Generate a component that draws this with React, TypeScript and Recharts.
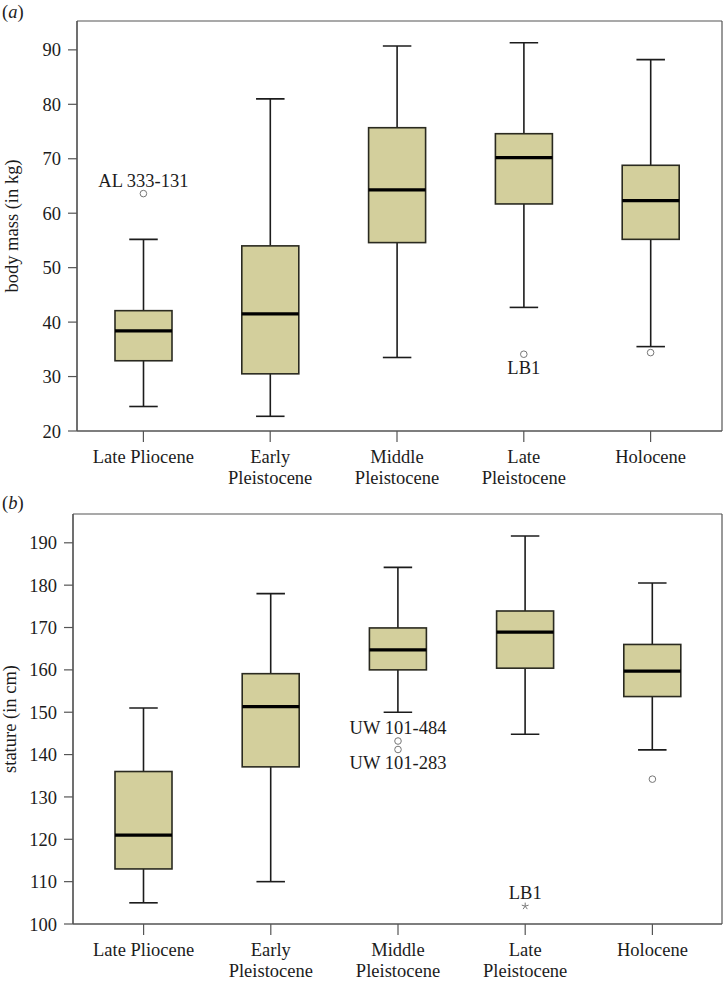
import React from 'react';
import { ComposedChart, Bar, Line, XAxis, YAxis, CartesianGrid } from 'recharts';

const periods = ['Late Pliocene', 'Early Pleistocene', 'Middle Pleistocene', 'Late Pleistocene', 'Holocene'];
const periodTickLines = [['Late Pliocene'], ['Early', 'Pleistocene'], ['Middle', 'Pleistocene'], ['Late', 'Pleistocene'], ['Holocene']];

// (a) body mass, kg
const massLow = [24.5, 22.7, 33.5, 42.7, 35.5];
const massQ1 = [32.9, 30.5, 54.6, 61.7, 55.2];
const massMedian = [38.4, 41.5, 64.3, 70.2, 62.3];
const massQ3 = [42.1, 54.0, 75.7, 74.6, 68.8];
const massHigh = [55.2, 81.0, 90.7, 91.3, 88.2];
const massTicks = [20, 30, 40, 50, 60, 70, 80, 90];
const massOutlierPeriod = [0, 3, 4];
const massOutlierValue = [63.6, 34.1, 34.4];
const massOutlierMark = ['circle', 'circle', 'circle'];
const massOutlierName = ['AL 333-131', 'LB1', ''];
const massOutlierNameSide = ['above', 'below', ''];

// (b) stature, cm
const statLow = [105, 110, 150, 144.8, 141.1];
const statQ1 = [113, 137.1, 160, 160.4, 153.7];
const statMedian = [121, 151.3, 164.7, 168.9, 159.7];
const statQ3 = [136, 159.1, 169.9, 173.9, 166];
const statHigh = [151, 178, 184.2, 191.6, 180.5];
const statTicks = [100, 110, 120, 130, 140, 150, 160, 170, 180, 190];
const statOutlierPeriod = [2, 2, 3, 4];
const statOutlierValue = [143.2, 141.2, 104.2, 134.2];
const statOutlierMark = ['circle', 'circle', 'star', 'circle'];
const statOutlierName = ['UW 101-484', 'UW 101-283', 'LB1', ''];
const statOutlierNameSide = ['above', 'below', 'above', ''];

const serif = '"Liberation Serif", "DejaVu Serif", "Times New Roman", serif';
const fs = 18.5;
const boxFill = '#d3cf9c';
const ink = '#1c1c1c';
const frame = '#555';

function buildRows(low, q1, med, q3, high, oPeriod, oValue, oMark, oName, oSide) {
  return periods.map((p, i) => {
    const outs = [];
    oPeriod.forEach((pi, j) => {
      if (pi === i) outs.push({ value: oValue[j], mark: oMark[j], name: oName[j], side: oSide[j] });
    });
    return { period: p, low: low[i], q1: q1[i], median: med[i], q3: q3[i], high: high[i], o1: outs[0], o2: outs[1] };
  });
}

const massRows = buildRows(massLow, massQ1, massMedian, massQ3, massHigh, massOutlierPeriod, massOutlierValue, massOutlierMark, massOutlierName, massOutlierNameSide);
const statRows = buildRows(statLow, statQ1, statMedian, statQ3, statHigh, statOutlierPeriod, statOutlierValue, statOutlierMark, statOutlierName, statOutlierNameSide);

function BoxShape(props: any) {
  const { x, y, width, height, payload } = props;
  if (!payload || height == null) return <g />;
  const { low, q1, median, q3, high } = payload;
  const top = Math.min(y, y + height);
  const k = Math.abs(height) / (high - low);
  const py = (v: number) => top + (high - v) * k;
  const cx = x + width / 2;
  const cap = width * 0.25;
  return (
    <g>
      <line x1={cx} x2={cx} y1={py(high)} y2={py(q3)} stroke={ink} strokeWidth={1.6} />
      <line x1={cx} x2={cx} y1={py(q1)} y2={py(low)} stroke={ink} strokeWidth={1.6} />
      <line x1={cx - cap} x2={cx + cap} y1={py(high)} y2={py(high)} stroke={ink} strokeWidth={1.6} />
      <line x1={cx - cap} x2={cx + cap} y1={py(low)} y2={py(low)} stroke={ink} strokeWidth={1.6} />
      <rect x={x} y={py(q3)} width={width} height={py(q1) - py(q3)} fill={boxFill} stroke="#2a2a20" strokeWidth={1.6} />
      <line x1={x} x2={x + width} y1={py(median)} y2={py(median)} stroke="#000" strokeWidth={3.2} />
    </g>
  );
}

function outlierDot(key: 'o1' | 'o2') {
  return (props: any) => {
    const { cx, cy, payload, index } = props;
    const o = payload && payload[key];
    if (!o || cy == null || Number.isNaN(cy)) return <g key={`${key}-${index}`} />;
    const arms = [-90, -18, 54, 126, 198].map((a) => (a * Math.PI) / 180);
    return (
      <g key={`${key}-${index}`}>
        {o.mark === 'star' ? (
          arms.map((a, j) => (
            <line key={j} x1={cx} y1={cy} x2={cx + 3.6 * Math.cos(a)} y2={cy + 3.6 * Math.sin(a)} stroke="#777" strokeWidth={1} />
          ))
        ) : (
          <circle cx={cx} cy={cy} r={3.3} fill="#fff" stroke="#777" strokeWidth={1} />
        )}
        {o.name ? (
          <text x={cx} y={cy + (o.side === 'above' ? -13 : 14)} textAnchor="middle" dominantBaseline="central" fontFamily={serif} fontSize={fs} fill={ink}>
            {o.name}
          </text>
        ) : null}
      </g>
    );
  };
}

function PeriodTick(props: any) {
  const { x, y, payload, index } = props;
  const lines = periodTickLines[index] || [payload.value];
  return (
    <text x={x} y={y} textAnchor="middle" fontFamily={serif} fontSize={fs} fill={ink}>
      {lines.map((l, i) => (
        <tspan key={i} x={x} dy={i === 0 ? 19 : 21}>{l}</tspan>
      ))}
    </text>
  );
}

function BoxPanel({ rows, domain, ticks, yLabel, height, top, yWidth, xHeight, pad }) {
  return (
    <ComposedChart width={724} height={height} data={rows} margin={{ top, right: 2, left: 0, bottom: 0 }}>
      <CartesianGrid
        stroke={frame}
        strokeWidth={1.2}
        horizontalCoordinatesGenerator={({ offset }: any) => [offset.top, offset.top + offset.height]}
        verticalCoordinatesGenerator={({ offset }: any) => [offset.left, offset.left + offset.width]}
      />
      <XAxis
        dataKey="period"
        interval={0}
        padding={pad}
        height={xHeight}
        tickSize={11}
        tickMargin={2}
        axisLine={{ stroke: frame, strokeWidth: 1.2 }}
        tickLine={{ stroke: frame, strokeWidth: 1.2 }}
        tick={<PeriodTick />}
      />
      <YAxis
        type="number"
        domain={domain}
        ticks={ticks}
        allowDataOverflow
        width={yWidth}
        tickSize={9}
        tickMargin={7}
        axisLine={{ stroke: frame, strokeWidth: 1.2 }}
        tickLine={{ stroke: frame, strokeWidth: 1.2 }}
        tick={{ fontFamily: serif, fontSize: fs, fill: ink }}
        label={{ value: yLabel, angle: -90, position: 'center', dx: -27, fontFamily: serif, fontSize: fs, fill: ink }}
      />
      <Bar dataKey={(d: any) => [d.low, d.high]} barSize={57} shape={<BoxShape />} isAnimationActive={false} />
      <Line dataKey={(d: any) => (d.o1 ? d.o1.value : null)} stroke="none" dot={outlierDot('o1')} activeDot={false} isAnimationActive={false} />
      <Line dataKey={(d: any) => (d.o2 ? d.o2.value : null)} stroke="none" dot={outlierDot('o2')} activeDot={false} isAnimationActive={false} />
    </ComposedChart>
  );
}

export default function App() {
  const panelLetter = (l: string, topPx: number) => (
    <div style={{ position: 'absolute', left: 2, top: topPx, fontFamily: serif, fontSize: fs, color: ink, lineHeight: '20px' }}>
      (<i>{l}</i>)
    </div>
  );
  return (
    <div style={{ position: 'absolute', left: 0, top: 0, width: 724, height: 983, background: '#fff' }}>
      <div style={{ position: 'absolute', left: 0, top: 0 }}>
        <BoxPanel rows={massRows} domain={[20, 95.3]} ticks={massTicks} yLabel="body mass (in kg)" height={494} top={21} yWidth={77} xHeight={63} pad={{ left: 3, right: 8 }} />
      </div>
      <div style={{ position: 'absolute', left: 0, top: 480 }}>
        <BoxPanel rows={statRows} domain={[100, 196.8]} ticks={statTicks} yLabel="stature (in cm)" height={503} top={34} yWidth={73} xHeight={59} pad={{ left: 7, right: 6 }} />
      </div>
      {panelLetter('a', 2)}
      {panelLetter('b', 493)}
    </div>
  );
}
